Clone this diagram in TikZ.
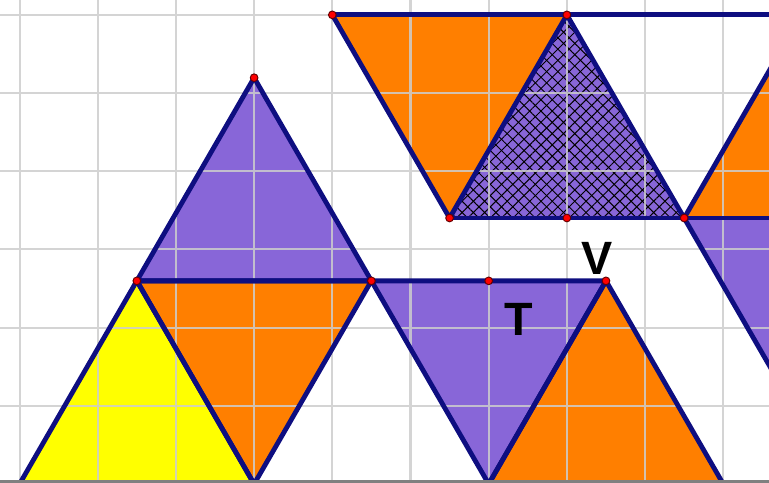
\documentclass[tikz,border=0pt]{standalone}
\usepackage{fontspec}
\setsansfont{Liberation Sans}
\usetikzlibrary{patterns.meta}

\definecolor{tpurple}{RGB}{136,102,216}
\definecolor{torange}{RGB}{255,127,0}
\definecolor{tyellow}{RGB}{255,255,0}
\definecolor{tnavy}{RGB}{14,14,128}
\definecolor{tgrid}{RGB}{205,205,205}
\definecolor{tframe}{RGB}{128,128,128}

\begin{document}
\begin{tikzpicture}[
    gridline/.style={tgrid, line width=0.75pt, opacity=0.85},
    edge/.style={draw=tnavy, line width=1.75pt, line join=round},
    hatch/.style={fill=tpurple,
                  postaction={pattern={Lines[angle=45, distance=2.9pt,
                              line width=0.35pt]}, pattern color=black},
                  postaction={pattern={Lines[angle=-45, distance=2.9pt,
                              line width=0.35pt]}, pattern color=black}},
    dot/.style={circle, fill=red, draw=red!40!black, line width=0.35pt,
                inner sep=0pt, minimum size=2.8pt},
    lbl/.style={font=\fontsize{17}{17}\selectfont\sffamily\bfseries,
                text=black},
  ]
    \pgfmathsetmacro{\h}{3*sqrt(3)/2}
    \useasboundingbox (-0.25,0.013) rectangle (9.585,6.19);
    \clip (-0.25,0.013) rectangle (9.585,6.19);

    % Ecken der Dreiecke
    \coordinate (b0) at (0,0);
    \coordinate (b3) at (3,0);
    \coordinate (b6) at (6,0);
    \coordinate (b9) at (9,0);
    \coordinate (m1) at (1.5,\h);
    \coordinate (m4) at (4.5,\h);
    \coordinate (m6) at (6,\h);
    \coordinate (m7) at (7.5,\h);
    \coordinate (s3) at (3,2*\h);
    \coordinate (o4) at (4,6);
    \coordinate (o7) at (7,6);
    \coordinate (o10) at (10,6);
    \coordinate (u5) at (5.5,6-\h);
    \coordinate (u7) at (7,6-\h);
    \coordinate (u8) at (8.5,6-\h);
    \coordinate (u11) at (11.5,6-\h);
    \coordinate (d10) at (10,6-2*\h);

    % Flaechen
    \fill[tyellow] (b0) -- (b3) -- (m1) -- cycle;
    \fill[torange] (m1) -- (m4) -- (b3) -- cycle;
    \fill[tpurple] (m4) -- (m7) -- (b6) -- cycle;
    \fill[torange] (b6) -- (b9) -- (m7) -- cycle;
    \fill[tpurple] (m1) -- (m4) -- (s3) -- cycle;
    \fill[torange] (o4) -- (o7) -- (u5) -- cycle;
    \fill[hatch]   (u5) -- (u8) -- (o7) -- cycle;
    \fill[torange] (u8) -- (u11) -- (o10) -- cycle;
    \fill[tpurple] (u8) -- (u11) -- (d10) -- cycle;

    % Gitter
    \draw[gridline] (-0.25,0) grid (9.6,6.2);

    % Kanten
    \draw[edge] (b0) -- (b3) -- (m1) -- cycle;
    \draw[edge] (m1) -- (m4) -- (b3) -- cycle;
    \draw[edge] (m4) -- (m7) -- (b6) -- cycle;
    \draw[edge] (b6) -- (b9) -- (m7) -- cycle;
    \draw[edge] (m1) -- (m4) -- (s3) -- cycle;
    \draw[edge] (o4) -- (o10) -- ++(1,0);
    \draw[edge] (o4) -- (u5) -- (o7) -- (u8);
    \draw[edge] (u5) -- (u11);
    \draw[edge] (u8) -- (o10);
    \draw[edge] (u8) -- (d10);

    % Punkte
    \foreach \p in {m1,m4,m6,m7,s3,o4,o7,u5,u7,u8}
      \node[dot] at (\p) {};

    % Beschriftung
    \node[lbl] (lt) at (6.39,2.10) {T};
    \node[lbl] (lv) at (7.385,2.89) {V};

    % unterer Rand
    \fill[tframe] (-0.25,0) rectangle (9.6,0.051);
  \end{tikzpicture}
\end{document}
